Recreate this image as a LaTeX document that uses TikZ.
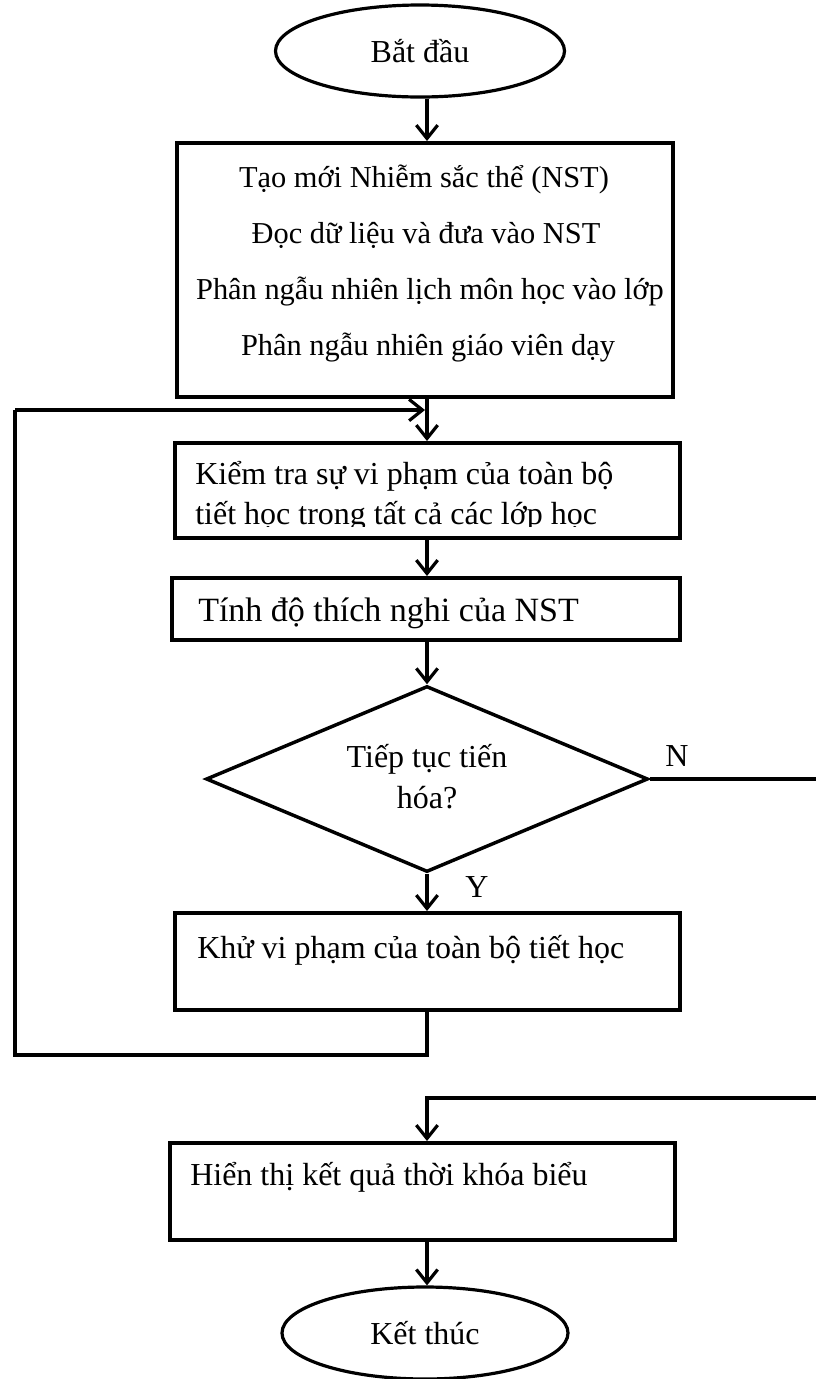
\documentclass[tikz,border=0pt]{standalone}
\usepackage{fontspec}
\setmainfont{Liberation Serif}
\usetikzlibrary{arrows.meta,shapes.geometric}
\begin{document}
\begin{tikzpicture}[x=0.75pt,y=-0.75pt,
  flow/.style={line width=2.4pt,-{Straight Barb[length=10pt,width=16pt]}},
  link/.style={line width=2.4pt},
  box/.style={draw,rectangle,line width=3pt,inner sep=0pt},
  term/.style={draw,ellipse,line width=2.4pt,inner sep=0pt,font=\fontsize{24}{28}\selectfont},
  cond/.style={draw,diamond,line width=2.6pt,inner sep=0pt},
  lbl/.style={inner sep=0pt,font=\fontsize{24}{28}\selectfont},
  small/.style={inner sep=0pt,font=\fontsize{22.8}{27}\selectfont},
  big/.style={inner sep=0pt,font=\fontsize{25.5}{30}\selectfont}
]
\clip (0,0) rectangle (816,1379);

% main column
\coordinate (cx) at (427,0);

% start
\node[term,minimum width=216.75pt,minimum height=69pt] (start) at (420,51) {Bắt đầu};

% initialisation
\node[box,minimum width=372pt,minimum height=190.5pt] (init) at (425,270) {};
\node[small,anchor=base] (init1) at (424,187) {Tạo mới Nhiễm sắc thể (NST)};
\node[small,anchor=base] (init2) at (426,243) {Đọc dữ liệu và đưa vào NST};
\node[small,anchor=base] (init3) at (430,299) {Phân ngẫu nhiên lịch môn học vào lớp};
\node[small,anchor=base] (init4) at (428,355) {Phân ngẫu nhiên giáo viên dạy};

% violation check (text frame cuts the second line)
\node[box,minimum width=378.75pt,minimum height=71.25pt] (check) at (427.5,490.5) {};
\begin{scope}
  \clip (177,446) rectangle (678,526);
  \node[lbl,anchor=base west] (check1) at (195,484) {Kiểm tra sự vi phạm của toàn bộ};
  \node[lbl,anchor=base west] (check2) at (195,524) {tiết học trong tất cả các lớp học};
\end{scope}

% fitness
\node[box,minimum width=381pt,minimum height=46.5pt] (fit) at (426,609) {};
\node[big,anchor=base west] (fit1) at (198,621) {Tính độ thích nghi của NST};

% decision
\node[cond,minimum width=331.5pt,minimum height=139.5pt] (dec) at (427,779) {};
\node[lbl,anchor=base] (dec1) at (427,767) {Tiếp tục tiến};
\node[lbl,anchor=base] (dec2) at (427,808) {hóa?};
\node[lbl,anchor=base] (no) at (677,766) {N};
\node[lbl,anchor=base] (yes) at (477,897) {Y};

% repair
\node[box,minimum width=378.75pt,minimum height=72.75pt] (fix) at (427.5,961.5) {};
\node[lbl,anchor=base west] (fix1) at (197,958) {Khử vi phạm của toàn bộ tiết học};

% output
\node[box,minimum width=378.75pt,minimum height=72.75pt] (show) at (422.5,1191.5) {};
\node[lbl,anchor=base west] (show1) at (190,1185) {Hiển thị kết quả thời khóa biểu};

% end
\node[term,minimum width=214.5pt,minimum height=69pt] (stop) at (425,1333) {Kết thúc};

% connectors
\draw[flow] (cx |- start.south) -- (cx |- init.north);
\draw[flow] (cx |- init.south) -- (cx |- check.north);
\draw[flow] (cx |- check.south) -- (cx |- fit.north);
\draw[flow] (cx |- fit.south) -- (dec.north);
\draw[flow] (dec.south) -- (cx |- fix.north);

% loop back to the check
\coordinate (ret) at (15,1055);
\coordinate (up) at (15,410);
\coordinate (join) at (427,410);
\draw[link] (cx |- fix.south) -- (cx |- ret) -- (ret) -- (up);
\draw[flow] (up) -- ([xshift=-1.5pt]join);

% exit branch
\coordinate (farR) at (845,0);
\coordinate (back) at (0,1098);
\draw[flow] (dec.east) -- (dec.east -| farR) -- (farR |- back) -- (cx |- back) -- (cx |- show.north);
\draw[flow] (cx |- show.south) -- (cx |- stop.north);
\end{tikzpicture}
\end{document}
